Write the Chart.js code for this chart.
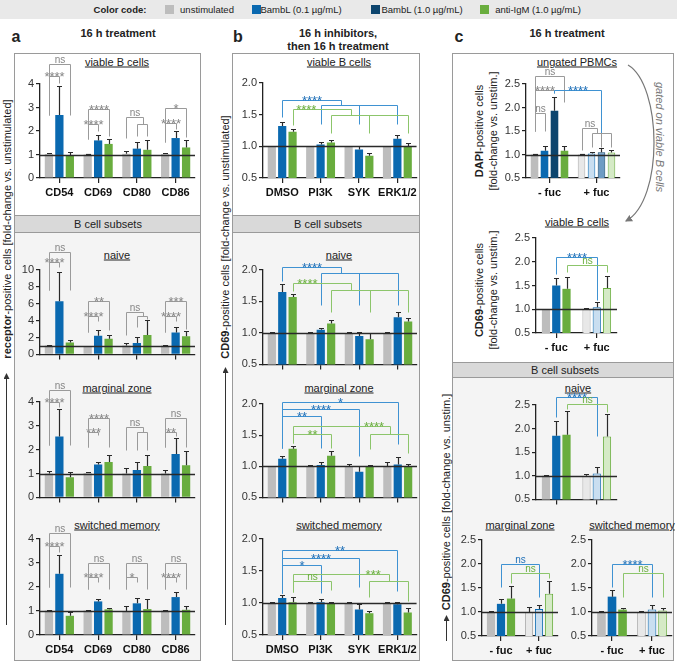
<!DOCTYPE html>
<html>
<head>
<meta charset="utf-8">
<script src="https://cdn.jsdelivr.net/npm/chart.js@4.4.0/dist/chart.umd.min.js"></script>
<style>
body{margin:0;width:677px;height:664px;position:relative;overflow:hidden;background:#fff;font-family:"Liberation Sans",Arial,sans-serif;color:#222}
.sec{position:absolute;border:1px solid #9a9a9a;box-sizing:border-box}
.band{position:absolute;border:1px solid #9a9a9a;box-sizing:border-box;background:#d9d9d9}
.t{position:absolute;white-space:nowrap;transform:translate(-50%,-50%);line-height:1}
.sw{position:absolute;width:9px;height:9px;top:5px}
</style>
</head>
<body>
<!-- colour code strip -->
<div style="position:absolute;left:0;top:0;width:677px;height:19px;background:#e9e9e9"></div>
<div class="t" style="left:120px;top:10px;font-size:9.5px;font-weight:bold">Color code:</div>
<div class="sw" style="left:165px;background:#bdbdbd"></div>
<div class="t" style="left:207px;top:10px;font-size:9.5px">unstimulated</div>
<div class="sw" style="left:252px;background:#0a69b0"></div>
<div class="t" style="left:301px;top:10px;font-size:9.5px">BambL (0.1 µg/mL)</div>
<div class="sw" style="left:371px;background:#0d456e"></div>
<div class="t" style="left:422px;top:10px;font-size:9.5px">BambL (1.0 µg/mL)</div>
<div class="sw" style="left:480px;background:#69ad3e"></div>
<div class="t" style="left:538px;top:10px;font-size:9.5px">anti-IgM (1.0 µg/mL)</div>

<!-- panel headers -->
<div class="t" style="left:16px;top:37px;font-size:16px;font-weight:bold">a</div>
<div class="t" style="left:118px;top:33px;font-size:11px;font-weight:bold">16 h treatment</div>
<div class="t" style="left:238px;top:37px;font-size:16px;font-weight:bold">b</div>
<div class="t" style="left:338px;top:33px;font-size:11px;font-weight:bold">16 h inhibitors,</div>
<div class="t" style="left:338px;top:46px;font-size:11px;font-weight:bold">then 16 h treatment</div>
<div class="t" style="left:459px;top:37px;font-size:16px;font-weight:bold">c</div>
<div class="t" style="left:567px;top:33px;font-size:11px;font-weight:bold">16 h treatment</div>

<!-- frames -->
<div class="sec" style="left:14px;top:53px;width:187px;height:608px;background:#fff"></div>
<div class="sec" style="left:14px;top:232px;width:187px;height:429px;background:#f4f4f4"></div>
<div class="band" style="left:14px;top:215px;width:187px;height:18px"></div>
<div class="sec" style="left:232px;top:53px;width:188px;height:608px;background:#fff"></div>
<div class="sec" style="left:232px;top:232px;width:188px;height:429px;background:#f4f4f4"></div>
<div class="band" style="left:232px;top:215px;width:188px;height:18px"></div>
<div class="sec" style="left:452px;top:53px;width:222px;height:608px;background:#fff"></div>
<div class="sec" style="left:452px;top:377px;width:222px;height:284px;background:#f4f4f4"></div>
<div class="band" style="left:452px;top:362px;width:222px;height:16px"></div>

<div class="t" style="left:108px;top:224px;font-size:11px">B cell subsets</div>
<div class="t" style="left:328px;top:224px;font-size:11px">B cell subsets</div>
<div class="t" style="left:565px;top:370px;font-size:11px">B cell subsets</div>

<!-- chart titles -->
<div class="t" style="left:117px;top:62px;font-size:11px;text-decoration:underline">viable B cells</div>
<div class="t" style="left:117px;top:255px;font-size:11px;text-decoration:underline">naive</div>
<div class="t" style="left:117px;top:388px;font-size:11px;text-decoration:underline">marginal zone</div>
<div class="t" style="left:117px;top:525px;font-size:11px;text-decoration:underline">switched memory</div>
<div class="t" style="left:339px;top:62px;font-size:11px;text-decoration:underline">viable B cells</div>
<div class="t" style="left:339px;top:255px;font-size:11px;text-decoration:underline">naive</div>
<div class="t" style="left:339px;top:388px;font-size:11px;text-decoration:underline">marginal zone</div>
<div class="t" style="left:339px;top:525px;font-size:11px;text-decoration:underline">switched memory</div>
<div class="t" style="left:577px;top:62px;font-size:11px;text-decoration:underline">ungated PBMCs</div>
<div class="t" style="left:577px;top:222px;font-size:11px;text-decoration:underline">viable B cells</div>
<div class="t" style="left:578px;top:388px;font-size:11px;text-decoration:underline">naive</div>
<div class="t" style="left:520px;top:525px;font-size:11px;text-decoration:underline">marginal zone</div>
<div class="t" style="left:632px;top:525px;font-size:11px;text-decoration:underline">switched memory</div>

<!-- axis titles -->
<div class="t" style="left:7px;top:229px;font-size:11px;transform:translate(-50%,-50%) rotate(-90deg)"><b>receptor</b>-positive cells [fold-change vs. unstimulated]</div>
<div class="t" style="left:225px;top:237px;font-size:11px;transform:translate(-50%,-50%) rotate(-90deg)"><b>CD69</b>-positive cells [fold-change vs. unstimulated]</div>
<div class="t" style="left:446px;top:502px;font-size:11px;transform:translate(-50%,-50%) rotate(-90deg)"><b>CD69</b>-positive cells [fold-change vs. unstim.]</div>
<div class="t" style="left:479px;top:131px;font-size:11px;transform:translate(-50%,-50%) rotate(-90deg)"><b>DAPI</b>-positive cells</div>
<div class="t" style="left:493px;top:131px;font-size:11px;transform:translate(-50%,-50%) rotate(-90deg)">[fold-change vs. unstim.]</div>
<div class="t" style="left:479px;top:290px;font-size:11px;transform:translate(-50%,-50%) rotate(-90deg)"><b>CD69</b>-positive cells</div>
<div class="t" style="left:493px;top:290px;font-size:11px;transform:translate(-50%,-50%) rotate(-90deg)">[fold-change vs. unstim.]</div>
<div class="t" style="left:659px;top:137px;font-size:11px;font-style:italic;color:#777;transform:translate(-50%,-50%) rotate(90deg)">gated on viable B cells</div>

<svg style="position:absolute;left:0;top:0" width="677" height="664">
  <defs>
    <marker id="ah" markerWidth="6" markerHeight="6" refX="5" refY="3" orient="auto">
      <path d="M0,0 L6,3 L0,6 z" fill="#333"/>
    </marker>
    <marker id="ahg" markerWidth="6" markerHeight="6" refX="5" refY="3" orient="auto">
      <path d="M0,0 L6,3 L0,6 z" fill="#777"/>
    </marker>
  </defs>
  <line x1="6.5" y1="625" x2="6.5" y2="374" stroke="#333" stroke-width="1" marker-end="url(#ah)"/>
  <line x1="225.5" y1="625" x2="225.5" y2="368" stroke="#333" stroke-width="1" marker-end="url(#ah)"/>
  <line x1="446.5" y1="641" x2="446.5" y2="616" stroke="#333" stroke-width="1" marker-end="url(#ah)"/>
  <path d="M628,65 C662,85 664,200 626,221" fill="none" stroke="#777" stroke-width="1.2" marker-end="url(#ahg)"/>
</svg>

<script>
// categories
var markers = ['CD54', 'CD69', 'CD80', 'CD86'];
var inhibitors = ['DMSO', 'PI3K', 'SYK', 'ERK1/2'];
var fucLabels = ['- fuc', '+ fuc'];

// a: viable B cells
var aViableUnstim = [1.02, 1.00, 1.03, 1.02];
var aViableUnstimSd = [0.05, 0.01, 0.12, 0.06];
var aViableBambl = [2.68, 1.60, 1.25, 1.70];
var aViableBamblSd = [1.22, 0.25, 0.28, 0.30];
var aViableIgm = [0.98, 1.45, 1.20, 1.30];
var aViableIgmSd = [0.12, 0.20, 0.40, 0.30];

// a: naive
var aNaiveUnstim = [1.05, 1.00, 1.05, 1.05];
var aNaiveUnstimSd = [0.05, 0.02, 0.35, 0.07];
var aNaiveBambl = [6.30, 2.20, 1.35, 2.60];
var aNaiveBamblSd = [3.50, 0.70, 0.70, 0.65];
var aNaiveIgm = [1.40, 1.85, 2.30, 2.15];
var aNaiveIgmSd = [0.25, 0.45, 1.80, 0.65];

// a: marginal zone
var aMarginUnstim = [1.00, 1.02, 1.00, 1.00];
var aMarginUnstimSd = [0.10, 0.03, 0.25, 0.15];
var aMarginBambl = [2.55, 1.38, 1.15, 1.82];
var aMarginBamblSd = [1.15, 0.12, 0.35, 0.68];
var aMarginIgm = [0.85, 1.48, 1.32, 1.35];
var aMarginIgmSd = [0.23, 0.30, 0.46, 0.58];

// a: switched memory
var aSwitchUnstim = [1.02, 1.02, 1.00, 1.02];
var aSwitchUnstimSd = [0.04, 0.02, 0.22, 0.04];
var aSwitchBambl = [2.55, 1.40, 1.32, 1.58];
var aSwitchBamblSd = [0.80, 0.10, 0.23, 0.20];
var aSwitchIgm = [0.80, 1.07, 1.08, 1.05];
var aSwitchIgmSd = [0.15, 0.05, 0.40, 0.15];

// b: viable B cells
var bViableUnstim = [1.00, 1.00, 1.00, 1.00];
var bViableUnstimSd = [0.01, 0.01, 0.01, 0.01];
var bViableBambl = [1.32, 1.03, 0.95, 1.12];
var bViableBamblSd = [0.07, 0.04, 0.05, 0.06];
var bViableIgm = [1.23, 1.06, 0.85, 1.00];
var bViableIgmSd = [0.05, 0.04, 0.05, 0.06];

// b: naive
var bNaiveUnstim = [1.00, 1.00, 1.00, 1.00];
var bNaiveUnstimSd = [0.01, 0.02, 0.01, 0.02];
var bNaiveBambl = [1.65, 1.05, 0.95, 1.25];
var bNaiveBamblSd = [0.12, 0.03, 0.06, 0.08];
var bNaiveIgm = [1.57, 1.15, 0.90, 1.18];
var bNaiveIgmSd = [0.05, 0.05, 0.10, 0.06];

// b: marginal zone
var bMarginUnstim = [1.00, 1.00, 1.00, 1.00];
var bMarginUnstimSd = [0.01, 0.02, 0.04, 0.07];
var bMarginBambl = [1.12, 1.02, 0.91, 1.03];
var bMarginBamblSd = [0.05, 0.05, 0.09, 0.12];
var bMarginIgm = [1.28, 1.17, 1.00, 1.00];
var bMarginIgmSd = [0.05, 0.08, 0.02, 0.04];

// b: switched memory
var bSwitchUnstim = [1.00, 1.00, 1.00, 1.00];
var bSwitchUnstimSd = [0.02, 0.01, 0.02, 0.02];
var bSwitchBambl = [1.08, 1.01, 0.90, 0.98];
var bSwitchBamblSd = [0.04, 0.06, 0.08, 0.04];
var bSwitchIgm = [1.01, 1.00, 0.84, 0.85];
var bSwitchIgmSd = [0.09, 0.02, 0.03, 0.07];

// c: ungated PBMCs (DAPI)
var cGateUnstim = [1.00, 1.00];
var cGateUnstimSd = [0.02, 0.02];
var cGateBambl01 = [1.08, 1.02];
var cGateBambl01Sd = [0.10, 0.03];
var cGateBambl10 = [1.93, 1.05];
var cGateBambl10Sd = [0.29, 0.08];
var cGateIgm = [1.08, 1.04];
var cGateIgmSd = [0.10, 0.05];

// c: viable B cells
var cViableUnstim = [1.00, 1.00];
var cViableUnstimSd = [0.01, 0.03];
var cViableBambl = [1.50, 1.04];
var cViableBamblSd = [0.15, 0.11];
var cViableIgm = [1.43, 1.45];
var cViableIgmSd = [0.25, 0.25];

// c: naive
var cNaiveUnstim = [1.00, 1.00];
var cNaiveUnstimSd = [0.02, 0.03];
var cNaiveBambl = [1.85, 1.05];
var cNaiveBamblSd = [0.32, 0.13];
var cNaiveIgm = [1.87, 1.83];
var cNaiveIgmSd = [0.50, 0.47];

// c: marginal zone
var cMarginUnstim = [1.00, 1.00];
var cMarginUnstimSd = [0.02, 0.10];
var cMarginBambl = [1.17, 1.06];
var cMarginBamblSd = [0.11, 0.09];
var cMarginIgm = [1.28, 1.38];
var cMarginIgmSd = [0.27, 0.27];

// c: switched memory
var cSwitchUnstim = [1.00, 1.00];
var cSwitchUnstimSd = [0.02, 0.03];
var cSwitchBambl = [1.32, 1.05];
var cSwitchBamblSd = [0.13, 0.10];
var cSwitchIgm = [1.05, 1.03];
var cSwitchIgmSd = [0.03, 0.05];

var FONT = '"Liberation Sans", Arial, sans-serif';
var colUnstim = '#bdbdbd', colBambl = '#0a69b0', colBamblHi = '#0d456e', colIgm = '#69ad3e';
var G = {line: '#9a9a9a', text: '#858585'};
var B = {line: '#3f92d2', text: '#1f70b8'};
var N = {line: '#8cc56b', text: '#6aae3e'};

// error bars, line at 1, significance brackets
var sigPlugin = {
    id: 'sig',
    afterDatasetsDraw: function (chart) {
        var ctx = chart.ctx, area = chart.chartArea, y = chart.scales.y;
        var y1 = Math.round(y.getPixelForValue(1)) + 0.5;
        ctx.save();
        ctx.strokeStyle = '#2a2a2a';
        ctx.lineWidth = 1.3;
        ctx.beginPath(); ctx.moveTo(area.left, y1); ctx.lineTo(area.right, y1); ctx.stroke();
        ctx.lineWidth = 1.2;
        chart.data.datasets.forEach(function (ds, i) {
            chart.getDatasetMeta(i).data.forEach(function (bar, j) {
                var top = Math.round(y.getPixelForValue(ds.data[j] + ds.sd[j])) + 0.5;
                var x = Math.round(bar.x) + 0.5;
                ctx.beginPath();
                ctx.moveTo(x, bar.y); ctx.lineTo(x, top);
                ctx.moveTo(x - 2.5, top); ctx.lineTo(x + 2.5, top);
                ctx.stroke();
            });
        });
        ctx.restore();
    },
    afterDraw: function (chart) {
        var ctx = chart.ctx, y = chart.scales.y;
        var brs = chart.canvas.brackets || [];
        function xOf(p) { return Math.round(chart.getDatasetMeta(p[1]).data[p[0]].x) + 0.5; }
        function Y(v) { return Math.round(y.getPixelForValue(v)) + 0.5; }
        ctx.save();
        brs.forEach(function (b) {
            var xa = xOf(b.a), ya = Y(b.y), xEnd;
            ctx.strokeStyle = b.col.line;
            ctx.lineWidth = 1;
            ctx.beginPath();
            ctx.moveTo(xa, Y(b.la)); ctx.lineTo(xa, ya);
            if (b.t) {
                var xs = b.t.map(xOf);
                var hub = Math.round((xs[0] + xs[1]) / 2) + 0.5, y2 = Y(b.y2);
                ctx.lineTo(hub, ya); ctx.lineTo(hub, y2);
                ctx.moveTo(xs[0], y2); ctx.lineTo(xs[xs.length - 1], y2);
                xs.forEach(function (x, k) {
                    ctx.moveTo(x, y2);
                    ctx.lineTo(x, Y(Array.isArray(b.lb) ? b.lb[k] : b.lb));
                });
                xEnd = hub;
            } else {
                xEnd = xOf(b.b);
                ctx.lineTo(xEnd, ya); ctx.lineTo(xEnd, Y(b.lb));
            }
            ctx.stroke();
            var tx = xa + (xEnd - xa) * (b.tx == null ? 0.5 : b.tx);
            ctx.fillStyle = b.col.text;
            ctx.textAlign = 'center';
            ctx.textBaseline = 'alphabetic';
            if (b.s === 'ns') {
                ctx.font = '10px ' + FONT;
                ctx.fillText('ns', tx, ya - 2);
            } else {
                ctx.font = '13px ' + FONT;
                ctx.fillText(b.s, tx, ya + 4.5);
            }
        });
        ctx.restore();
    }
};
Chart.register(sigPlugin);

function pair(a, b, y, la, lb, s, col, tx) {
    return {a: a, b: b, y: y, la: la, lb: lb, s: s, col: col, tx: tx};
}
function grp(a, t, y, y2, la, lb, s, col, tx) {
    return {a: a, t: t, y: y, y2: y2, la: la, lb: lb, s: s, col: col, tx: tx};
}

function trio(u, us, b, bs, g, gs) {
    return [
        {data: u, sd: us, backgroundColor: colUnstim},
        {data: b, sd: bs, backgroundColor: colBambl},
        {data: g, sd: gs, backgroundColor: colIgm}
    ];
}
function fuc(v, s, dark, light, edge) {
    return {data: v, sd: s, backgroundColor: [dark, light], borderColor: [dark, edge], borderWidth: [0, 1]};
}
function fucTrio(u, us, b, bs, g, gs) {
    return [
        fuc(u, us, colUnstim, '#e8e8e8', '#a8a8a8'),
        fuc(b, bs, colBambl, '#c9def0', colBambl),
        fuc(g, gs, colIgm, '#d5eac6', colIgm)
    ];
}

// g: L/R = x pixel span of the axes, T/B = pixel of top/bottom tick
function makeChart(g, labels, datasets, yMin, yMax, yStep, dec, showX, brackets, catPct, barPct) {
    var yw = g.yw || 26, xh = showX ? 25 : 8, padR = 3, pt = g.pt;
    var w = yw + (g.R - g.L) + padR, h = pt + (g.B - g.T) + xh;
    var canvas = document.createElement('canvas');
    canvas.width = w;
    canvas.height = h;
    canvas.style.cssText = 'position:absolute;left:' + (g.L - yw) + 'px;top:' + (g.T - pt) + 'px;width:' + w + 'px;height:' + h + 'px';
    canvas.brackets = brackets;
    document.body.appendChild(canvas);
    datasets.forEach(function (d) {
        d.barPercentage = barPct;
        d.categoryPercentage = catPct;
    });
    return new Chart(canvas, {
        type: 'bar',
        data: {labels: labels, datasets: datasets},
        options: {
            responsive: false,
            animation: false,
            events: [],
            layout: {padding: {top: pt, right: padR, left: 0, bottom: 0}},
            plugins: {legend: {display: false}, tooltip: {enabled: false}},
            scales: {
                x: {
                    grid: {offset: false, drawOnChartArea: false, tickLength: 5, color: '#222', lineWidth: 1.2},
                    border: {color: '#222', width: 1.3},
                    ticks: {
                        padding: 3, color: '#111', maxRotation: 0, autoSkip: false,
                        font: {family: FONT, size: 11, weight: 'bold'},
                        callback: function (v) { return showX ? this.getLabelForValue(v) : ''; }
                    },
                    afterFit: function (s) { s.height = xh; }
                },
                y: {
                    min: yMin, max: yMax,
                    grid: {drawOnChartArea: false, tickLength: 4, color: '#222', lineWidth: 1.2},
                    border: {color: '#222', width: 1.3},
                    ticks: {
                        stepSize: yStep, padding: 2, color: '#333',
                        font: {family: FONT, size: 11},
                        callback: function (v) { return v.toFixed(dec); }
                    },
                    afterFit: function (s) { s.width = yw; }
                }
            }
        }
    });
}

// Panel a
makeChart({L: 40, R: 195, T: 84, B: 178, pt: 30}, markers,
    trio(aViableUnstim, aViableUnstimSd, aViableBambl, aViableBamblSd, aViableIgm, aViableIgmSd),
    0, 4, 1, 0, true, [
        pair([0, 0], [0, 1], 4.35, 2.7, 4.05, '****', G), pair([0, 0], [0, 2], 4.85, 2.7, 2.7, 'ns', G),
        pair([1, 0], [1, 1], 2.3, 1.65, 2.0, '****', G), pair([1, 0], [1, 2], 2.95, 1.65, 1.8, '****', G),
        grp([2, 0], [[2, 1], [2, 2]], 2.6, 2.3, 1.7, 1.8, 'ns', G),
        pair([3, 0], [3, 1], 2.35, 1.55, 2.1, '****', G), pair([3, 0], [3, 2], 3.0, 1.55, 1.75, '*', G)
    ], 0.81, 0.79);

makeChart({L: 40, R: 195, T: 270, B: 355, pt: 30}, markers,
    trio(aNaiveUnstim, aNaiveUnstimSd, aNaiveBambl, aNaiveBamblSd, aNaiveIgm, aNaiveIgmSd),
    0, 10, 2, 0, false, [
        pair([0, 0], [0, 1], 10.9, 7.6, 10.4, '****', G), pair([0, 0], [0, 2], 12.1, 7.6, 7.6, 'ns', G),
        pair([1, 0], [1, 1], 4.6, 2.7, 4.0, '****', G), pair([1, 0], [1, 2], 6.3, 2.7, 2.9, '**', G),
        grp([2, 0], [[2, 1], [2, 2]], 5.0, 4.5, 2.35, [3.2, 4.25], 'ns', G),
        pair([3, 0], [3, 1], 4.6, 2.7, 4.0, '****', G), pair([3, 0], [3, 2], 6.3, 2.7, 3.0, '***', G)
    ], 0.81, 0.79);

makeChart({L: 40, R: 195, T: 402, B: 498, pt: 24}, markers,
    trio(aMarginUnstim, aMarginUnstimSd, aMarginBambl, aMarginBamblSd, aMarginIgm, aMarginIgmSd),
    0, 4, 1, 0, false, [
        pair([0, 0], [0, 1], 4.02, 2.2, 3.8, '****', G), pair([0, 0], [0, 2], 4.5, 2.2, 2.2, 'ns', G),
        pair([1, 0], [1, 1], 2.76, 2.1, 2.6, '***', G), pair([1, 0], [1, 2], 3.33, 2.1, 2.1, '****', G),
        grp([2, 0], [[2, 1], [2, 2]], 2.97, 2.76, 2.0, 2.0, 'ns', G),
        pair([3, 0], [3, 1], 2.76, 2.1, 2.58, '**', G), pair([3, 0], [3, 2], 3.33, 2.1, 2.1, 'ns', G)
    ], 0.81, 0.79);

makeChart({L: 40, R: 195, T: 539, B: 635, pt: 18}, markers,
    trio(aSwitchUnstim, aSwitchUnstimSd, aSwitchBambl, aSwitchBamblSd, aSwitchIgm, aSwitchIgmSd),
    0, 4, 1, 0, true, [
        pair([0, 0], [0, 1], 3.71, 2.0, 3.47, '****', G), pair([0, 0], [0, 2], 4.24, 2.0, 2.0, 'ns', G),
        pair([1, 0], [1, 1], 2.43, 1.9, 2.22, '****', G), pair([1, 0], [1, 2], 2.99, 1.9, 1.9, 'ns', G),
        pair([2, 0], [2, 1], 2.43, 1.9, 2.22, '*', G), pair([2, 0], [2, 2], 2.99, 1.9, 1.9, 'ns', G),
        pair([3, 0], [3, 1], 2.43, 1.9, 2.22, '****', G), pair([3, 0], [3, 2], 2.99, 1.9, 1.9, 'ns', G)
    ], 0.81, 0.79);

// Panel b
var bAll = [[1, 1], [2, 1], [3, 1]], gAll = [[1, 2], [2, 2], [3, 2]];
makeChart({L: 263, R: 417, T: 83, B: 178, pt: 10, yw: 30}, inhibitors,
    trio(bViableUnstim, bViableUnstimSd, bViableBambl, bViableBamblSd, bViableIgm, bViableIgmSd),
    0.5, 2.0, 0.5, 1, true, [
        grp([0, 1], bAll, 1.73, 1.65, 1.47, 1.36, '****', B),
        grp([0, 2], gAll, 1.59, 1.5, 1.34, 1.21, '****', N, 0.22)
    ], 0.81, 0.79);

makeChart({L: 263, R: 417, T: 270, B: 365, pt: 14, yw: 30}, inhibitors,
    trio(bNaiveUnstim, bNaiveUnstimSd, bNaiveBambl, bNaiveBamblSd, bNaiveIgm, bNaiveIgmSd),
    0.5, 2.0, 0.5, 1, false, [
        grp([0, 1], bAll, 2.05, 1.96, 1.82, 1.44, '****', B),
        grp([0, 2], gAll, 1.8, 1.69, 1.66, 1.34, '****', N, 0.24)
    ], 0.81, 0.79);

makeChart({L: 263, R: 417, T: 404, B: 498, pt: 14, yw: 30}, inhibitors,
    trio(bMarginUnstim, bMarginUnstimSd, bMarginBambl, bMarginBamblSd, bMarginIgm, bMarginIgmSd),
    0.5, 2.0, 0.5, 1, false, [
        pair([0, 1], [3, 1], 2.04, 1.3, 1.35, '*', B),
        pair([0, 1], [2, 1], 1.92, 1.3, 1.16, '****', B),
        pair([0, 1], [1, 1], 1.8, 1.3, 1.3, '**', B),
        grp([0, 2], [[2, 2], [3, 2]], 1.64, 1.52, 1.38, [1.27, 1.22], '****', N, 0.83),
        pair([0, 2], [1, 2], 1.52, 1.38, 1.3, '**', N)
    ], 0.81, 0.79);

makeChart({L: 263, R: 417, T: 539, B: 635, pt: 10, yw: 30}, inhibitors,
    trio(bSwitchUnstim, bSwitchUnstimSd, bSwitchBambl, bSwitchBamblSd, bSwitchIgm, bSwitchIgmSd),
    0.5, 2.0, 0.5, 1, true, [
        pair([0, 1], [3, 1], 1.83, 1.15, 1.18, '**', B),
        pair([0, 1], [2, 1], 1.71, 1.15, 1.25, '****', B),
        pair([0, 1], [1, 1], 1.59, 1.15, 1.16, '*', B),
        grp([0, 2], [[2, 2], [3, 2]], 1.46, 1.35, 1.17, [1.1, 1.03], '***', N, 0.83),
        pair([0, 2], [1, 2], 1.35, 1.17, 1.2, 'ns', N)
    ], 0.81, 0.79);

// Panel c
makeChart({L: 526, R: 620, T: 84, B: 178, pt: 20, yw: 28}, fucLabels, [
        fuc(cGateUnstim, cGateUnstimSd, colUnstim, '#e8e8e8', '#a8a8a8'),
        fuc(cGateBambl01, cGateBambl01Sd, colBambl, '#c9def0', colBambl),
        fuc(cGateBambl10, cGateBambl10Sd, colBamblHi, '#6e9cc4', colBamblHi),
        fuc(cGateIgm, cGateIgmSd, colIgm, '#d5eac6', colIgm)
    ],
    0.5, 2.5, 0.5, 1, true, [
        pair([0, 0], [0, 3], 2.68, 1.5, 2.11, 'ns', G),
        pair([0, 0], [0, 2], 2.37, 1.5, 2.3, '****', G),
        pair([0, 0], [0, 1], 1.89, 1.5, 1.5, 'ns', G),
        pair([0, 2], [1, 2], 2.37, 2.3, 1.28, '****', B),
        grp([1, 0], [[1, 1], [1, 2], [1, 3]], 1.57, 1.45, 1.1, 1.15, 'ns', G)
    ], 0.85, 0.76);

makeChart({L: 536, R: 617, T: 238, B: 333, pt: 10, yw: 28}, fucLabels,
    fucTrio(cViableUnstim, cViableUnstimSd, cViableBambl, cViableBamblSd, cViableIgm, cViableIgmSd),
    0.5, 2.5, 0.5, 1, true, [
        pair([0, 1], [1, 1], 2.1, 1.74, 1.2, '****', B),
        pair([0, 2], [1, 2], 1.93, 1.78, 1.78, 'ns', N)
    ], 0.76, 0.8);

makeChart({L: 536, R: 617, T: 405, B: 500, pt: 16, yw: 28}, fucLabels,
    fucTrio(cNaiveUnstim, cNaiveUnstimSd, cNaiveBambl, cNaiveBamblSd, cNaiveIgm, cNaiveIgmSd),
    0.5, 2.5, 0.5, 1, false, [
        pair([0, 1], [1, 1], 2.66, 2.24, 1.85, '****', B),
        pair([0, 2], [1, 2], 2.52, 2.42, 2.35, 'ns', N)
    ], 0.76, 0.8);

makeChart({L: 482, R: 558, T: 540, B: 636, pt: 10, yw: 28}, fucLabels,
    fucTrio(cMarginUnstim, cMarginUnstimSd, cMarginBambl, cMarginBamblSd, cMarginIgm, cMarginIgmSd),
    0.5, 2.5, 0.5, 1, true, [
        pair([0, 1], [1, 1], 2.0, 1.53, 1.32, 'ns', B),
        pair([0, 2], [1, 2], 1.81, 1.6, 1.71, 'ns', N)
    ], 0.79, 0.82);

makeChart({L: 592, R: 672, T: 540, B: 636, pt: 10, yw: 28}, fucLabels,
    fucTrio(cSwitchUnstim, cSwitchUnstimSd, cSwitchBambl, cSwitchBamblSd, cSwitchIgm, cSwitchIgmSd),
    0.5, 2.5, 0.5, 1, true, [
        pair([0, 1], [1, 1], 2.0, 1.53, 1.32, '****', B),
        pair([0, 2], [1, 2], 1.81, 1.32, 1.32, 'ns', N)
    ], 0.79, 0.82);
</script>
</body>
</html>
